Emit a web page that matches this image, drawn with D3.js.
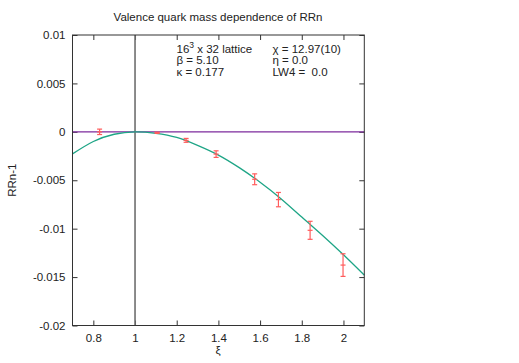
<!DOCTYPE html>
<html>
<head>
<meta charset="utf-8">
<script src="https://cdn.jsdelivr.net/npm/d3@7"></script>
<style>
body { margin: 0; background: #fff; }
text { font-family: "Liberation Sans", Arial, sans-serif; font-size: 11.5px; fill: #222; white-space: pre; }
</style>
</head>
<body>
<svg width="519" height="363"></svg>
<script>
// measured points
var xiVals  = [0.83, 1.106, 1.245, 1.389, 1.574, 1.688, 1.840, 1.998];
var rrnVals = [0.0, -0.0001, -0.00088, -0.0023, -0.0049, -0.0070, -0.01017, -0.01376];
var rrnErrs = [0.00028, 0.00006, 0.0002, 0.00034, 0.00056, 0.00074, 0.00093, 0.00117];

// fitted curve
var fitXi  = [0.7, 0.8, 0.9, 1.0, 1.1, 1.2, 1.3, 1.4, 1.5, 1.6, 1.7, 1.8, 1.9, 2.0, 2.1];
var fitRrn = [-0.00228, -0.0010, -0.00025, 0, -0.00015, -0.00058, -0.0014, -0.0024, -0.0037,
              -0.0052, -0.0069, -0.0088, -0.0107, -0.0127, -0.0148];

var xTicks = [0.8, 1, 1.2, 1.4, 1.6, 1.8, 2];
var yTicks = [0.01, 0.005, 0, -0.005, -0.01, -0.015, -0.02];
var yTickLabels = ["0.01", "0.005", "0", "-0.005", "-0.01", "-0.015", "-0.02"];

var infoLeft  = ["16|3| x 32 lattice", "\u03b2 = 5.10", "\u03ba = 0.177"];
var infoRight = ["\u03c7 = 12.97(10)", "\u03b7 = 0.0", "LW4 =  0.0"];

var svg = d3.select("svg");
var pL = 72.5, pR = 364.3, pT = 35, pB = 325.5;

var x = d3.scaleLinear().domain([0.7, 2.1]).range([pL, pR]);
var y = d3.scaleLinear().domain([-0.02, 0.01]).range([pB, pT]);

// axes, ticks pointing inward, mirrored on top/right
svg.append("g")
  .attr("transform", "translate(0," + pB + ")")
  .call(d3.axisBottom(x).tickValues(xTicks).tickSize(-5).tickPadding(8)
    .tickFormat(function(d) { return String(d); }));
svg.append("g")
  .attr("transform", "translate(0," + pT + ")")
  .call(d3.axisTop(x).tickValues(xTicks).tickSize(-5).tickFormat(""));
svg.append("g")
  .attr("transform", "translate(" + pL + ",0)")
  .call(d3.axisLeft(y).tickValues(yTicks).tickSize(-5).tickPadding(7)
    .tickFormat(function(d, i) { return yTickLabels[i]; }));
svg.append("g")
  .attr("transform", "translate(" + pR + ",0)")
  .call(d3.axisRight(y).tickValues(yTicks).tickSize(-5).tickFormat(""));

svg.selectAll(".domain").remove();
svg.selectAll(".tick line").attr("stroke", "#333");
svg.selectAll(".tick text").attr("fill", "#222").style("font-size", "11.5px")
  .style("font-family", "'Liberation Sans', Arial, sans-serif");

// zero line and xi = 1 line
svg.append("line")
  .attr("x1", pL).attr("x2", pR)
  .attr("y1", y(0)).attr("y2", y(0))
  .attr("stroke", "#7d2a9c").attr("stroke-width", 1.3);
svg.append("line")
  .attr("x1", x(1)).attr("x2", x(1))
  .attr("y1", pT).attr("y2", pB)
  .attr("stroke", "#6e6e6e").attr("stroke-width", 1.6);

// fit curve
var line = d3.line()
  .x(function(d, i) { return x(fitXi[i]); })
  .y(function(d) { return y(d); })
  .curve(d3.curveNatural);
svg.append("path")
  .datum(fitRrn)
  .attr("d", line)
  .attr("fill", "none")
  .attr("stroke", "#1ea586")
  .attr("stroke-width", 1.3);

// error bars
var bars = svg.append("g").attr("stroke", "#ff5c5c").attr("stroke-width", 1.2);
xiVals.forEach(function(xv, i) {
  var cx = x(xv), lo = y(rrnVals[i] - rrnErrs[i]), hi = y(rrnVals[i] + rrnErrs[i]);
  bars.append("line").attr("x1", cx).attr("x2", cx).attr("y1", lo).attr("y2", hi);
  bars.append("line").attr("x1", cx - 2.5).attr("x2", cx + 2.5).attr("y1", lo).attr("y2", lo);
  bars.append("line").attr("x1", cx - 2.5).attr("x2", cx + 2.5).attr("y1", hi).attr("y2", hi);
  bars.append("line").attr("x1", cx - 2.5).attr("x2", cx + 2.5)
    .attr("y1", y(rrnVals[i])).attr("y2", y(rrnVals[i]));
});

// frame
svg.append("rect")
  .attr("x", pL).attr("y", pT)
  .attr("width", pR - pL).attr("height", pB - pT)
  .attr("fill", "none").attr("stroke", "#333").attr("stroke-width", 1);

// titles
svg.append("text").attr("x", 218).attr("y", 21).attr("text-anchor", "middle")
  .text("Valence quark mass dependence of RRn");
svg.append("text").attr("x", 218).attr("y", 354).attr("text-anchor", "middle")
  .text("\u03be");
svg.append("text")
  .attr("transform", "translate(16," + ((pT + pB) / 2) + ") rotate(-90)")
  .attr("text-anchor", "middle")
  .text("RRn-1");

// info block
infoLeft.forEach(function(s, i) {
  var t = svg.append("text").attr("x", 176.5).attr("y", 53 + i * 11.3);
  var parts = s.split("|");
  if (parts.length === 3) {
    t.append("tspan").text(parts[0]);
    t.append("tspan").attr("dy", -5).style("font-size", "8.5px").text(parts[1]);
    t.append("tspan").attr("dy", 5).text(parts[2]);
  } else {
    t.text(s);
  }
});
infoRight.forEach(function(s, i) {
  svg.append("text").attr("x", 272.5).attr("y", 53 + i * 11.3).text(s);
});
</script>
</body>
</html>
